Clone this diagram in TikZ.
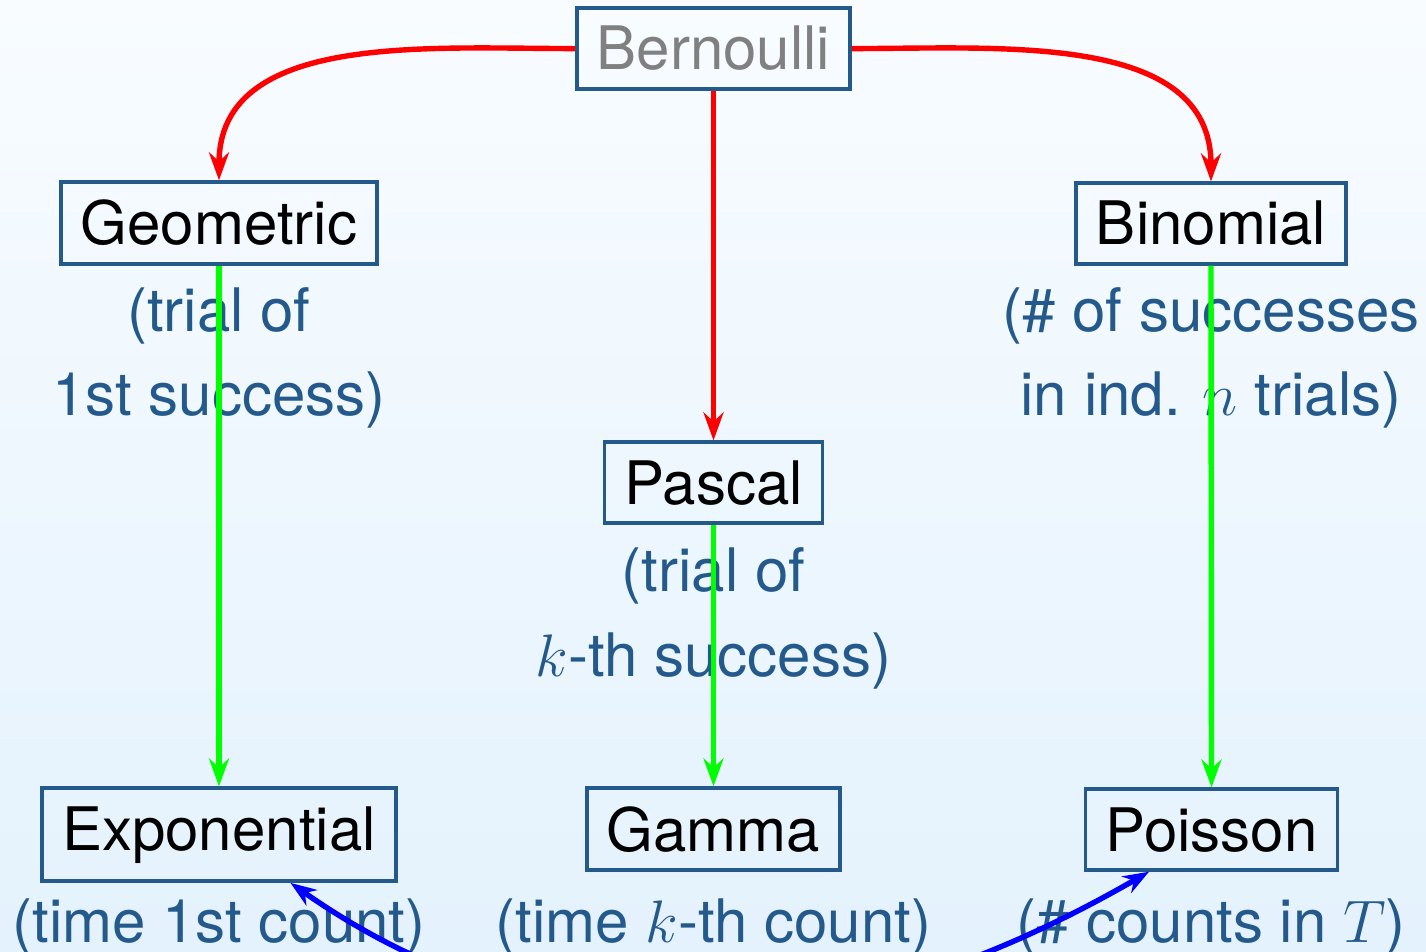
\RequirePackage{fix-cm}
\documentclass[tikz,border=0pt]{standalone}
\usepackage{fontspec}
\setmainfont{TeX Gyre Heros}
\usetikzlibrary{arrows.meta}
\definecolor{bgtop}{RGB}{248,252,255}
\definecolor{bgbot}{RGB}{228,242,253}
\definecolor{framecol}{RGB}{36,89,140}
\definecolor{labelcol}{RGB}{36,89,140}
\definecolor{namegray}{RGB}{128,128,128}
\begin{document}
\begin{tikzpicture}[x=0.5pt,y=0.5pt,
  distbox/.style={draw=framecol, line width=1.8pt, inner xsep=10pt, inner ysep=9pt,
    font=\fontsize{30}{36}\selectfont, text=black, anchor=base},
  distlabel/.style={text=labelcol, align=center, inner sep=0pt,
    font=\fontsize{30}{42.5}\selectfont, anchor=base},
  conn/.style={line width=2.7pt, -{Stealth[length=14pt,width=10pt]}},
  redconn/.style={conn, draw=red},
  greenconn/.style={conn, draw=green},
  blueconn/.style={line width=2.7pt, draw=blue,
    {Stealth[length=13pt,width=9.5pt]}-{Stealth[length=13pt,width=9.5pt]}}
]
\useasboundingbox (0,0) rectangle (1426,-952);
\shade[top color=bgtop, bottom color=bgbot] (0,0) rectangle (1426,-952);
\clip (0,0) rectangle (1426,-952);

% labels (base anchor = baseline of the last line)
\node[distlabel] (geolab) at (219,-416) {(trial of\\1st success)};
\node[distlabel] (binlab) at (1211,-416) {(\# of successes\\in ind. $n$ trials)};
\node[distlabel] (paslab) at (713.5,-676) {(trial of\\$k$-th success)};
\node[distlabel] (explab) at (219,-942) {(time 1st count)};
\node[distlabel] (gamlab) at (713.5,-942) {(time $k$-th count)};
\node[distlabel] (poilab) at (1211,-942) {(\# counts in $T$)};

% distribution nodes
\node[distbox, text=namegray] (bern) at (713.5,-70) {Bernoulli};
\node[distbox] (geo) at (219,-245) {Geometric};
\node[distbox] (bin) at (1211,-245) {Binomial};
\node[distbox] (pas) at (713.5,-504) {Pascal};
\node[distbox] (exp) at (219,-850) {Exponential};
\node[distbox] (gam) at (713.5,-851) {Gamma};
\node[distbox] (poi) at (1211.5,-851) {Poisson};

% connectors
\draw[redconn] (bern.west) to[out=180,in=90] (geo.north);
\draw[redconn] (bern.east) to[out=0,in=90] (bin.north);
\draw[redconn] (bern.south) -- (pas.north);
\draw[greenconn] (geo.south) -- (exp.north);
\draw[greenconn] (pas.south) -- (gam.north);
\draw[greenconn] (bin.south) -- (poi.north);
\draw[blueconn] (exp.-34) to[out=-35,in=-150] (poi.-146);
\end{tikzpicture}
\end{document}
